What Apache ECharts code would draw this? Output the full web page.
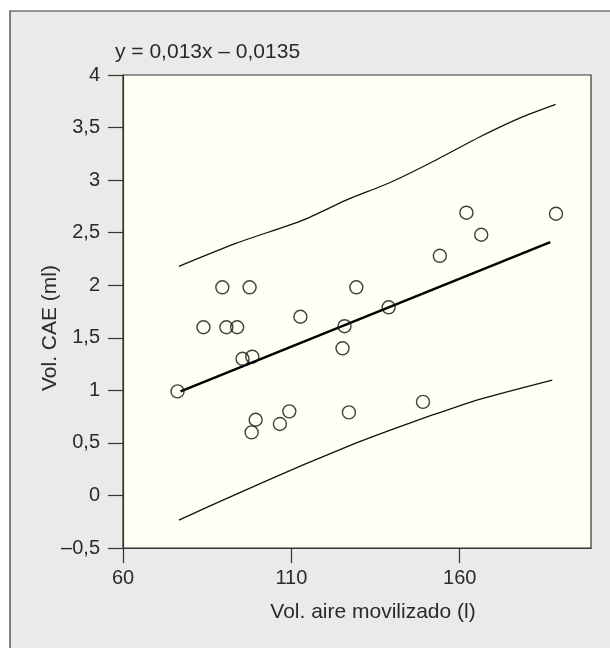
<!DOCTYPE html>
<html>
<head>
<meta charset="utf-8">
<title>Vol. CAE vs Vol. aire movilizado</title>
<script src="https://cdn.jsdelivr.net/npm/echarts@6/dist/echarts.min.js"></script>
<style>
    html,body{margin:0;padding:0;background:#fff;}
    #grafico{width:610px;height:648px;}
</style>
</head>
<body>
<div id="grafico"></div>
<script>
// puntos medidos
var volAire = [76.2,83.9,89.5,90.7,93.9,95.5,97.6,98.2,98.4,99.4,106.6,109.4,112.7,125.2,125.8,127.1,129.3,138.9,149.1,154.1,162.0,166.4,188.6];
var volCAE  = [0.99,1.60,1.98,1.60,1.60,1.30,1.98,0.60,1.32,0.72,0.68,0.80,1.70,1.40,1.61,0.79,1.98,1.79,0.89,2.28,2.69,2.48,2.68];

// recta de regresion (extremos)
var rectaX = [77.1,186.9];
var rectaY = [0.99,2.41];

// bandas
var bandaSupX = [76.6,93.7,113.5,126.3,139.2,151.1,165.9,177.8,188.5];
var bandaSupY = [2.18,2.40,2.62,2.81,2.975,3.16,3.41,3.59,3.72];
var bandaInfX = [76.6,93.7,113.5,129.3,139.2,151.1,165.9,187.5];
var bandaInfY = [-0.234,0.013,0.29,0.50,0.62,0.756,0.915,1.098];

var ecuacion = "y = 0,013x \u2013 0,0135";
var tituloX = "Vol. aire movilizado (l)";
var tituloY = "Vol. CAE (ml)";

function juntar(xs,ys){
    var out = [];
    for(var i=0;i<xs.length;i++){
        out.push([xs[i],ys[i]]);
    }
    return out;
}
function conComa(val){
    var s = String(Math.round(val*10)/10);
    s = s.replace('.',',');
    if(s.charAt(0)=='-'){
        s = '\u2013'+s.substring(1);
    }
    return s;
}

var fuente = "'Liberation Sans', Arial, sans-serif";
var colorTexto = '#2a2a2a';
var colorLinea = '#333';

var chart = echarts.init(document.getElementById('grafico'), null, {renderer:'canvas'});
var option = {
    backgroundColor: '#fff',
    animation: false,
    textStyle: {fontFamily: fuente},
    graphic: [
        {
            type: 'rect', z: -10, silent: true,
            shape: {x: 10, y: 11, width: 620, height: 660},
            style: {fill: '#ebeae8', stroke: colorLinea, lineWidth: 1.2}
        },
        {
            type: 'text', left: 115, top: 42,
            style: {text: ecuacion, font: "21px " + fuente, fill: colorTexto}
        },
        {
            type: 'text', x: 373, y: 612,
            style: {text: tituloX, font: "21px " + fuente, fill: colorTexto, align: 'center', verticalAlign: 'middle'}
        },
        {
            type: 'text', x: 50, y: 328, rotation: Math.PI/2,
            style: {text: tituloY, font: "21px " + fuente, fill: colorTexto, align: 'center', verticalAlign: 'middle'}
        }
    ],
    grid: {
        left: 123, top: 75, right: 19, bottom: 100,
        show: true,
        backgroundColor: '#fffff3',
        borderColor: colorLinea,
        borderWidth: 1.2
    },
    xAxis: {
        type: 'value',
        min: 60, max: 199, interval: 50,
        splitLine: {show: false},
        axisLine: {show: true, onZero: false, lineStyle: {color: colorLinea, width: 1.2}},
        axisTick: {show: true, length: 15, lineStyle: {color: colorLinea, width: 1.2}},
        axisLabel: {
            margin: 20, fontSize: 20, color: colorTexto, fontFamily: fuente,
            showMaxLabel: false
        }
    },
    yAxis: {
        type: 'value',
        min: -0.5, max: 4, interval: 0.5,
        splitLine: {show: false},
        axisLine: {show: true, onZero: false, lineStyle: {color: colorLinea, width: 1.2}},
        axisTick: {show: true, length: 15, lineStyle: {color: colorLinea, width: 1.2}},
        axisLabel: {
            margin: 23, fontSize: 20, color: colorTexto, fontFamily: fuente,
            formatter: function(val){ return conComa(val); }
        }
    },
    series: [
        {
            name: 'banda superior', type: 'line', data: juntar(bandaSupX,bandaSupY),
            showSymbol: false, smooth: 0.2,
            lineStyle: {color: '#111', width: 1.3}
        },
        {
            name: 'banda inferior', type: 'line', data: juntar(bandaInfX,bandaInfY),
            showSymbol: false, smooth: 0.2,
            lineStyle: {color: '#111', width: 1.3}
        },
        {
            name: 'regresion', type: 'line', data: juntar(rectaX,rectaY),
            showSymbol: false,
            lineStyle: {color: '#000', width: 2.6}
        },
        {
            name: 'datos', type: 'scatter', data: juntar(volAire,volCAE),
            symbol: 'circle', symbolSize: 13, z: 5,
            itemStyle: {color: 'rgba(0,0,0,0)', borderColor: '#111', borderWidth: 1.4}
        }
    ]
};
chart.setOption(option);
</script>
</body>
</html>
